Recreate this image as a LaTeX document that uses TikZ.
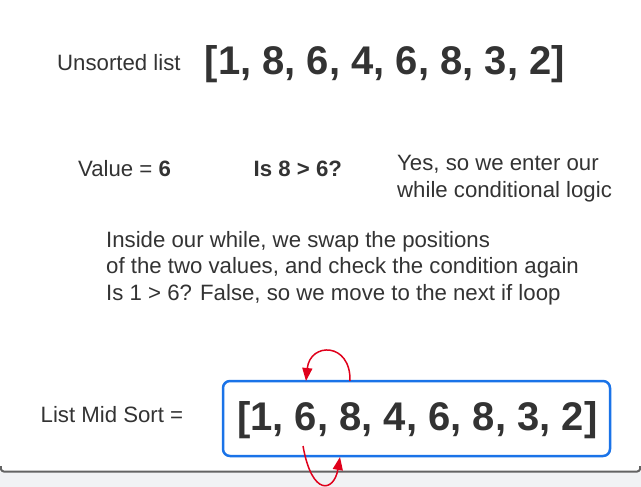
\documentclass[tikz,border=0pt]{standalone}
\usepackage{fontspec}
\setmainfont{Liberation Sans}
\usetikzlibrary{arrows.meta}
\definecolor{txtc}{HTML}{333333}
\definecolor{bluec}{HTML}{1A73E8}
\definecolor{arrc}{HTML}{E0001B}
\definecolor{shadec}{HTML}{F1F2F4}
\definecolor{edgec}{HTML}{636363}
\begin{document}
\begin{tikzpicture}[x=1pt,y=-1pt,
  txt/.style={text=txtc, inner sep=0pt, anchor=base west, font=\fontsize{22.2}{26.5}\selectfont},
  big/.style={text=txtc, inner sep=0pt, anchor=base west, font=\fontsize{40}{48}\selectfont\bfseries},
  arr/.style={draw=arrc, line width=1.5pt, -{Triangle[length=13pt,width=10pt]}}]
\useasboundingbox (0,0) rectangle (641,487);
\fill[white] (0,0) rectangle (641,487);
\fill[shadec] (0,472) rectangle (641,487);
\draw[edgec, line width=2pt, rounded corners=3pt] (0.8,466) -- (0.8,471.5) -- (640.2,471.5) -- (640.2,466);
\node[txt] (uns) at (57,71) {Unsorted list};
\node[big] (l1) at (204.5,75) {[1, 8, 6, 4, 6, 8, 3, 2]};
\node[txt] (val) at (78,177) {Value = \textbf{6}};
\node[txt, font=\fontsize{22.2}{26.5}\selectfont\bfseries] (is) at (253.5,177) {Is 8 > 6?};
\node[txt, align=left] (yes) at (397,197) {Yes, so we enter our\\while conditional logic};
\node[txt, align=left] (para) at (106,300) {Inside our while, we swap the positions\\of the two values, and check the condition again\\Is 1 > 6? False, so we move to the next if loop};
\node[txt] (lms) at (40.5,422) {List Mid Sort =};
\node[draw=bluec, line width=2.5pt, rounded corners=7pt, minimum width=387pt, minimum height=75pt, inner sep=0pt] (box) at (416.5,418.5) {};
\node[big] (l2) at (237,430) {[1, 6, 8, 4, 6, 8, 3, 2]};
\coordinate (t1) at (350,381);
\coordinate (t2) at (306,381);
\coordinate (b1) at (303,446);
\coordinate (b2) at (340,457);
\draw[arr] (t1) .. controls (351,342) and (310,342) .. (t2);
\draw[arr] (b1) .. controls (312,497) and (334,492) .. (b2);
\end{tikzpicture}
\end{document}
